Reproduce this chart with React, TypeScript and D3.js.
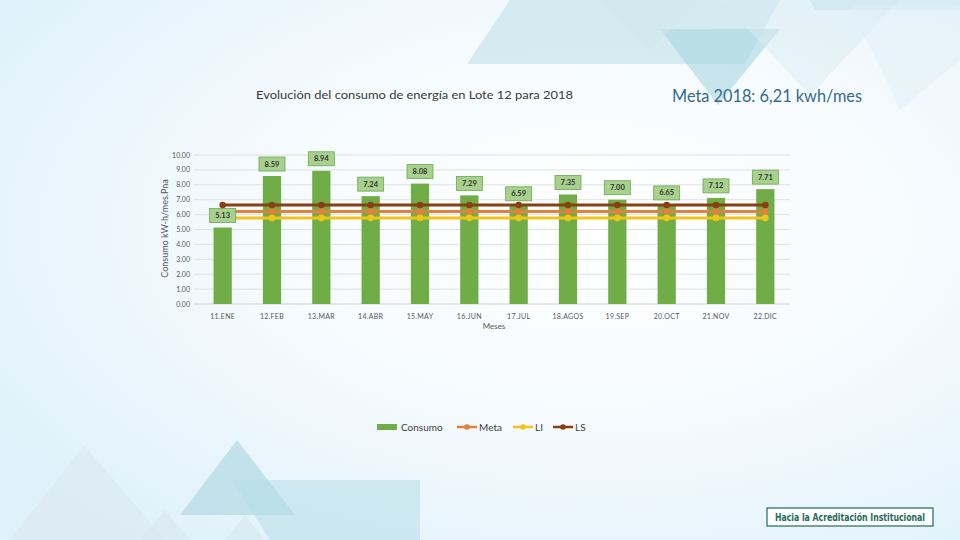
import React from "react";
import * as d3 from "d3";

const months = ["11.ENE", "12.FEB", "13.MAR", "14.ABR", "15.MAY", "16.JUN", "17.JUL", "18.AGOS", "19.SEP", "20.OCT", "21.NOV", "22.DIC"];
const consumo = [5.13, 8.59, 8.94, 7.24, 8.08, 7.29, 6.59, 7.35, 7.0, 6.65, 7.12, 7.71];
const meta = [6.21, 6.21, 6.21, 6.21, 6.21, 6.21, 6.21, 6.21, 6.21, 6.21, 6.21, 6.21];
const li = [5.78, 5.78, 5.78, 5.78, 5.78, 5.78, 5.78, 5.78, 5.78, 5.78, 5.78, 5.78];
const ls = [6.64, 6.64, 6.64, 6.64, 6.64, 6.64, 6.64, 6.64, 6.64, 6.64, 6.64, 6.64];
const yTicks = [0, 1, 2, 3, 4, 5, 6, 7, 8, 9, 10];

const W = 960, H = 540;
const X0 = 198, X1 = 790, Y0 = 304, Y1 = 155;

const FONT = "Lato, 'Open Sans', sans-serif";

export default function App() {
  const x = d3.scaleBand<string>().domain(months).range([X0, X1]).padding(0);
  const y = d3.scaleLinear().domain([0, 10]).range([Y0, Y1]);
  const bw = x.bandwidth() * 0.37;
  const cx = (m: string) => (x(m) as number) + x.bandwidth() / 2;
  const line = d3.line<number>().x((_, i) => cx(months[i])).y((v) => y(v));

  const series = [
    { name: "Meta", data: meta, color: "#e2803f" },
    { name: "LI", data: li, color: "#f2c318" },
    { name: "LS", data: ls, color: "#8a3f12" },
  ];

  return (
    <svg width={W} height={H} style={{ position: "absolute", left: 0, top: 0 }}>
      <defs>
        <radialGradient id="bg" cx="0.62" cy="0.42" r="0.75">
          <stop offset="0" stopColor="#ffffff" />
          <stop offset="0.45" stopColor="#f6fbfe" />
          <stop offset="1" stopColor="#dff1fb" />
        </radialGradient>
      </defs>
      <rect x={0} y={0} width={W} height={H} fill="url(#bg)" />
      {/* decorative triangles top */}
      <polygon points="467,64 510,0 780,0 745,64" fill="#b9dfe6" opacity={0.55} />
      <polygon points="660,29 780,29 718,105" fill="#a8d6e0" opacity={0.6} />
      <polygon points="600,0 700,0 650,50" fill="#d0e8ee" opacity={0.5} />
      <polygon points="720,0 900,0 810,95" fill="#d8ecf3" opacity={0.5} />
      <polygon points="810,0 960,0 960,10 815,10" fill="#c3e2ee" opacity={0.5} />
      <polygon points="850,5 960,5 960,60 900,110" fill="#e0f0f6" opacity={0.5} />
      {/* decorative triangles bottom */}
      <polygon points="84,445 10,540 165,540" fill="#dce9ef" opacity={0.6} />
      <polygon points="237,440 180,515 295,515" fill="#a9d6df" opacity={0.6} />
      <polygon points="232,480 420,480 420,540 270,540" fill="#b7dde5" opacity={0.55} />
      <polygon points="165,510 140,540 190,540" fill="#dae8ee" opacity={0.6} />
      <polygon points="245,515 225,540 265,540" fill="#d5e8ee" opacity={0.6} />

      {/* gridlines */}
      {yTicks.map((t) => (
        <line key={t} x1={X0 - 4} x2={X1} y1={y(t)} y2={y(t)} stroke={t === 0 ? "#c8c8c8" : "#dadada"} strokeWidth={0.8} />
      ))}
      {yTicks.map((t) => (
        <text key={"l" + t} x={190} y={y(t) + 2.5} textAnchor="end" fontSize={7} fill="#595959" fontFamily={FONT}>
          {t.toFixed(2)}
        </text>
      ))}
      <text transform={`translate(168,${(Y0 + Y1) / 2 - 1}) rotate(-90)`} textAnchor="middle" fontSize={9} fill="#595959" fontFamily={FONT}>
        Consumo kW-h/mes.Pna
      </text>

      {/* bars */}
      {consumo.map((v, i) => (
        <rect key={i} x={cx(months[i]) - bw / 2} y={y(v)} width={bw} height={Y0 - y(v)} fill="#70ad47" />
      ))}

      {/* lines */}
      {series.map((s) => (
        <g key={s.name}>
          <path d={line(s.data) as string} fill="none" stroke={s.color} strokeWidth={3} />
          {s.data.map((v, i) => (
            <circle key={i} cx={cx(months[i])} cy={y(v)} r={3.3} fill={s.color} />
          ))}
        </g>
      ))}

      {/* data labels */}
      {consumo.map((v, i) => {
        const c = cx(months[i]);
        const top = y(v) - 5;
        return (
          <g key={"d" + i}>
            <rect x={c - 13} y={top - 14} width={26} height={14} fill="#a9d18e" stroke="#6aa84f" strokeWidth={0.8} />
            <text x={c} y={top - 4.5} textAnchor="middle" fontSize={7.5} fill="#333" fontFamily={FONT} fontWeight={700}>
              {v.toFixed(2)}
            </text>
          </g>
        );
      })}

      {/* x labels */}
      {months.map((m) => (
        <text key={m} x={cx(m)} y={319} textAnchor="middle" fontSize={7} fill="#595959" fontFamily={FONT} letterSpacing={0.3}>
          {m}
        </text>
      ))}
      <text x={(X0 + X1) / 2} y={329} textAnchor="middle" fontSize={8} fill="#595959" fontFamily={FONT}>
        Meses
      </text>

      {/* legend */}
      <rect x={377} y={424} width={20} height={6} fill="#70ad47" />
      <text x={401} y={430.5} fontSize={10} fill="#404040" fontFamily={FONT}>Consumo</text>
      {[
        { name: "Meta", color: "#e2803f", x: 457 },
        { name: "LI", color: "#f2c318", x: 513 },
        { name: "LS", color: "#8a3f12", x: 553 },
      ].map((l) => (
        <g key={l.name}>
          <line x1={l.x} x2={l.x + 20} y1={427} y2={427} stroke={l.color} strokeWidth={2.5} />
          <circle cx={l.x + 10} cy={427} r={2.8} fill={l.color} />
          <text x={l.x + 22} y={430.5} fontSize={10} fill="#404040" fontFamily={FONT}>{l.name}</text>
        </g>
      ))}

      {/* titles */}
      <text x={256} y={99} fontSize={12} fill="#3a3a3a" fontFamily={FONT} textLength={317} lengthAdjust="spacingAndGlyphs">
        Evolución del consumo de energía en Lote 12 para 2018
      </text>
      <text x={672} y={102} fontSize={16.5} fill="#356a8c" fontFamily={FONT} textLength={190} lengthAdjust="spacingAndGlyphs">
        Meta 2018: 6,21 kwh/mes
      </text>

      {/* footer logo */}
      <rect x={767} y={508} width={166} height={18} fill="#ffffff" stroke="#1f6b57" strokeWidth={1.2} />
      <text x={775} y={521} fontSize={10} fontWeight={700} fill="#1f6b57" fontFamily="'DejaVu Sans Condensed', 'Liberation Sans Narrow', sans-serif" textLength={150} lengthAdjust="spacingAndGlyphs">
        Hacia la Acreditación Institucional
      </text>
    </svg>
  );
}
